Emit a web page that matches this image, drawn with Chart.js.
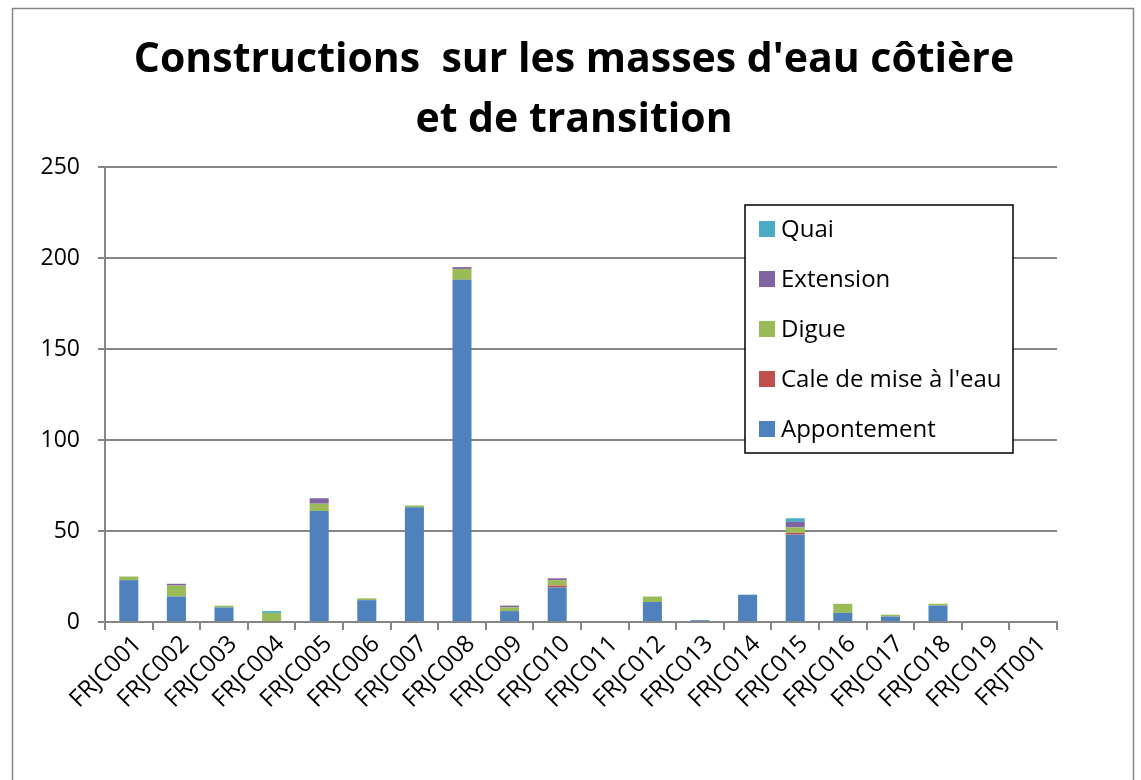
<!DOCTYPE html>
<html>
<head>
<meta charset="utf-8">
<script src="https://cdn.jsdelivr.net/npm/chart.js@4"></script>
<style>
  html, body { margin: 0; padding: 0; background: #fff; }
  #wrap { width: 1141px; height: 780px; }
</style>
</head>
<body>
<div id="wrap"><canvas id="chart" width="1141" height="780"></canvas></div>
<script>
const categories = [
  "FRJC001", "FRJC002", "FRJC003", "FRJC004", "FRJC005", "FRJC006", "FRJC007",
  "FRJC008", "FRJC009", "FRJC010", "FRJC011", "FRJC012", "FRJC013", "FRJC014",
  "FRJC015", "FRJC016", "FRJC017", "FRJC018", "FRJC019", "FRJT001"
];
const appontement = [23, 14, 8, 0, 61, 12, 63, 188, 6, 19, 0, 11, 1, 15, 48, 5, 3, 9, 0, 0];
const cale        = [0, 0, 0, 0, 0, 0, 0, 0, 0, 1, 0, 0, 0, 0, 1, 0, 0, 0, 0, 0];
const digue       = [2, 6, 1, 5, 4, 1, 1, 6, 2, 3, 0, 3, 0, 0, 3, 5, 1, 1, 0, 0];
const extension   = [0, 1, 0, 0, 3, 0, 0, 1, 1, 1, 0, 0, 0, 0, 3, 0, 0, 0, 0, 0];
const quai        = [0, 0, 0, 1, 0, 0, 0, 0, 0, 0, 0, 0, 0, 0, 2, 0, 0, 0, 0, 0];
const yTicks = [0, 50, 100, 150, 200, 250];
const titleLines = ["Constructions  sur les masses d'eau côtière", "et de transition"];

const FONT = "'Open Sans', 'Liberation Sans', sans-serif";
const GREY = "#868686";

// white background, outer frame and the two-line title centred on the canvas
const framePlugin = {
  id: 'frame',
  beforeDraw(chart) {
    const ctx = chart.ctx;
    ctx.save();
    ctx.fillStyle = '#fff';
    ctx.fillRect(0, 0, chart.width, chart.height);
    ctx.strokeStyle = GREY;
    ctx.lineWidth = 1.5;
    ctx.strokeRect(12.5, 8.5, 1121, 800);
    ctx.fillStyle = '#000';
    ctx.font = 'bold 41px ' + FONT;
    ctx.textAlign = 'center';
    ctx.textBaseline = 'middle';
    titleLines.forEach((t, i) => ctx.fillText(t, 574, 60 + i * 60));
    ctx.restore();
  }
};

// boxed legend sitting inside the plot, series listed top to bottom in reverse
const boxLegend = {
  id: 'boxLegend',
  afterDraw(chart) {
    const ctx = chart.ctx;
    const area = chart.chartArea;
    const x = area.right - 312, y = area.top + 38, w = 268, h = 248;
    ctx.save();
    ctx.fillStyle = '#fff';
    ctx.fillRect(x, y, w, h);
    ctx.strokeStyle = '#000';
    ctx.lineWidth = 1.5;
    ctx.strokeRect(x, y, w, h);
    ctx.font = '24px ' + FONT;
    ctx.textBaseline = 'middle';
    const sets = chart.data.datasets.slice().reverse();
    sets.forEach((ds, i) => {
      const cy = y + 24 + i * 50;
      ctx.fillStyle = ds.backgroundColor;
      ctx.fillRect(x + 14, cy - 8, 16, 16);
      ctx.fillStyle = '#000';
      ctx.fillText(ds.label, x + 36, cy + 1);
    });
    ctx.restore();
  }
};

new Chart(document.getElementById('chart'), {
  type: 'bar',
  data: {
    labels: categories,
    datasets: [
      { label: 'Appontement', data: appontement, backgroundColor: '#4F81BD' },
      { label: "Cale de mise à l'eau", data: cale, backgroundColor: '#C0504D' },
      { label: 'Digue', data: digue, backgroundColor: '#9BBB59' },
      { label: 'Extension', data: extension, backgroundColor: '#8064A2' },
      { label: 'Quai', data: quai, backgroundColor: '#4BACC6' }
    ]
  },
  options: {
    responsive: false,
    animation: false,
    devicePixelRatio: 1,
    layout: { padding: { left: 0, right: 84, top: 167, bottom: 0 } },
    datasets: {
      bar: { categoryPercentage: 1, barPercentage: 0.4, borderWidth: 0 }
    },
    plugins: {
      legend: { display: false },
      tooltip: { enabled: false },
      title: { display: false }
    },
    scales: {
      x: {
        stacked: true,
        grid: { drawOnChartArea: false, drawTicks: true, tickLength: 8, offset: true, color: GREY, lineWidth: 2 },
        border: { color: GREY, width: 2 },
        ticks: {
          color: '#000',
          font: { family: FONT, size: 24 },
          minRotation: 45,
          maxRotation: 45,
          autoSkip: false,
          labelOffset: 9,
          padding: 0
        },
        afterFit(scale) { scale.height = 158; }
      },
      y: {
        stacked: true,
        min: 0,
        max: 250,
        afterBuildTicks(scale) { scale.ticks = yTicks.map(v => ({ value: v })); },
        grid: { color: GREY, lineWidth: 2, tickLength: 7 },
        border: { color: GREY, width: 2 },
        ticks: { color: '#000', font: { family: FONT, size: 23 }, padding: 18 },
        afterFit(scale) { scale.width = 105; }
      }
    }
  },
  plugins: [framePlugin, boxLegend]
});
</script>
</body>
</html>
